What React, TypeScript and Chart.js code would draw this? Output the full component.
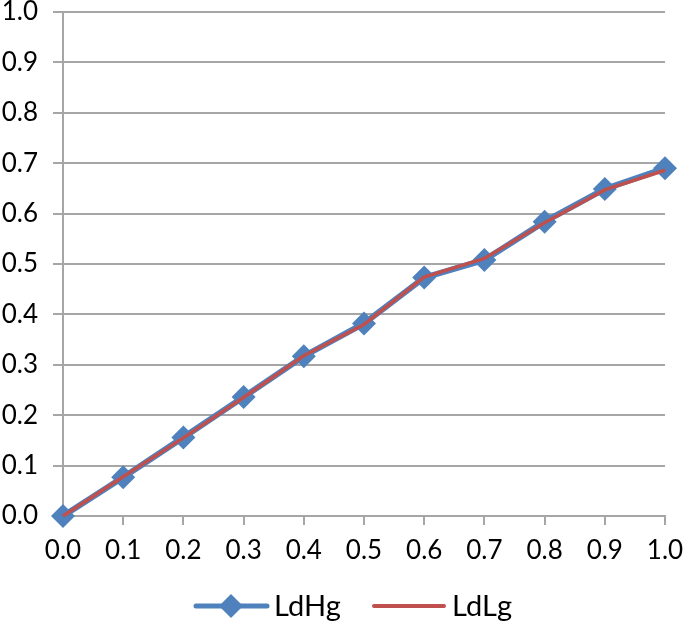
import React, { useEffect, useRef } from "react";
import { Chart, registerables } from "chart.js";

Chart.register(...registerables);

const xValues = [0.0, 0.1, 0.2, 0.3, 0.4, 0.5, 0.6, 0.7, 0.8, 0.9, 1.0];
const ldHg = [0, 0.077, 0.156, 0.236, 0.317, 0.382, 0.473, 0.508, 0.584, 0.649, 0.69];
const ldLg = [0, 0.078, 0.155, 0.235, 0.318, 0.38, 0.474, 0.511, 0.582, 0.647, 0.686];
const seriesNames = ["LdHg", "LdLg"];

const BLUE = "#4F81BD";
const RED = "#C0504D";
const GRID = "#A6A6A6";
const FONT = "Lato, 'Liberation Sans', sans-serif";

const legendPlugin = {
  id: "customLegend",
  afterDraw(chart: any) {
    const ctx = chart.ctx;
    const y = 606;
    ctx.save();
    ctx.strokeStyle = BLUE;
    ctx.lineWidth = 5;
    ctx.lineCap = "round";
    ctx.beginPath();
    ctx.moveTo(196, y);
    ctx.lineTo(267, y);
    ctx.stroke();
    ctx.fillStyle = BLUE;
    ctx.beginPath();
    ctx.moveTo(231, y - 12);
    ctx.lineTo(243, y);
    ctx.lineTo(231, y + 12);
    ctx.lineTo(219, y);
    ctx.closePath();
    ctx.fill();
    ctx.font = `29px ${FONT}`;
    ctx.fillStyle = "#000";
    ctx.textBaseline = "middle";
    ctx.textAlign = "left";
    ctx.fillText(seriesNames[0], 274, y + 1);
    ctx.strokeStyle = RED;
    ctx.lineWidth = 4;
    ctx.beginPath();
    ctx.moveTo(374, y);
    ctx.lineTo(444, y);
    ctx.stroke();
    ctx.fillText(seriesNames[1], 452, y + 1);
    ctx.restore();
  },
};

export default function App() {
  const ref = useRef<HTMLCanvasElement>(null);
  useEffect(() => {
    document.body.style.margin = "0";
    const chart = new Chart(ref.current!, {
      type: "line",
      data: {
        datasets: [
          {
            label: seriesNames[0],
            data: xValues.map((x, i) => ({ x, y: ldHg[i] })),
            borderColor: BLUE,
            backgroundColor: BLUE,
            borderWidth: 6,
            pointStyle: "rectRot",
            pointRadius: 12,
            pointBorderWidth: 0,
            pointBackgroundColor: BLUE,
            tension: 0,
            order: 1,
            clip: false,
          },
          {
            label: seriesNames[1],
            data: xValues.map((x, i) => ({ x, y: ldLg[i] })),
            borderColor: RED,
            backgroundColor: RED,
            borderWidth: 3.5,
            pointRadius: 0,
            tension: 0,
            order: 0,
            clip: false,
          },
        ],
      },
      options: {
        responsive: false,
        animation: false,
        layout: { padding: { left: 0, right: 20, top: 11, bottom: 0 } },
        plugins: { legend: { display: false }, tooltip: { enabled: false } },
        scales: {
          x: {
            type: "linear",
            min: 0,
            max: 1,
            afterFit: (s: any) => {
              s.height = 126;
              s.paddingLeft = 0;
              s.paddingRight = 0;
            },
            ticks: {
              stepSize: 0.1,
              color: "#000",
              font: { family: FONT, size: 26 },
              padding: 10,
              maxRotation: 0,
              callback: (v: any) => Number(v).toFixed(1),
            },
            grid: {
              drawOnChartArea: false,
              drawTicks: true,
              tickLength: 9,
              color: GRID,
              lineWidth: 2,
            },
            border: { display: true, color: GRID, width: 2 },
          },
          y: {
            type: "linear",
            min: 0,
            max: 1,
            afterFit: (s: any) => {
              s.width = 63;
              s.paddingTop = 0;
              s.paddingBottom = 0;
            },
            ticks: {
              stepSize: 0.1,
              color: "#000",
              font: { family: FONT, size: 26 },
              padding: 15,
              callback: (v: any) => Number(v).toFixed(1),
            },
            grid: {
              drawTicks: true,
              tickLength: 10,
              color: GRID,
              lineWidth: 2,
            },
            border: { display: true, color: GRID, width: 2 },
          },
        },
      },
      plugins: [legendPlugin],
    });
    return () => chart.destroy();
  }, []);
  return <canvas ref={ref} width={685} height={642} style={{ display: "block" }} />;
}
